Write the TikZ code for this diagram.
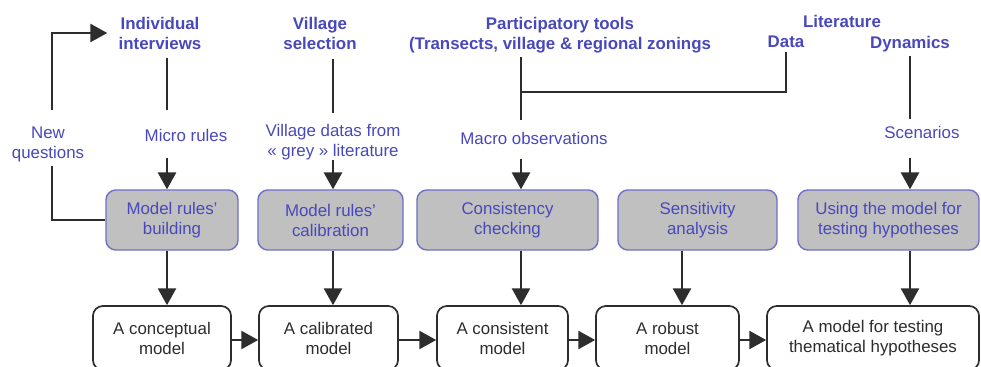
\documentclass[tikz,border=0pt]{standalone}
\usepackage{fontspec}
\setmainfont{Liberation Sans}
\usepackage{xcolor}
\definecolor{LabelBlue}{RGB}{72,72,188}
\definecolor{BoxGray}{RGB}{192,192,192}
\definecolor{BoxEdge}{RGB}{112,112,200}
\definecolor{DarkLine}{RGB}{45,45,45}
\usetikzlibrary{arrows.meta}
\newcommand{\figfont}{\fontsize{12}{14.2}\selectfont}

\begin{document}
\begin{tikzpicture}[x=0.025cm,y=-0.025cm,
	every node/.append style={font=\figfont},
	toplabel/.style={font=\figfont\bfseries, text=LabelBlue, align=center, inner xsep=2pt, inner ysep=3pt},
	midlabel/.style={text=LabelBlue, align=center, inner xsep=2pt, inner ysep=3pt},
	stepbox/.style={draw=BoxEdge, fill=BoxGray, text=LabelBlue, rounded corners=7pt, line width=1pt, minimum height=1.5cm, align=center},
	modelbox/.style={draw=DarkLine, fill=white, text=DarkLine, rounded corners=7pt, line width=1.2pt, minimum height=1.6cm, align=center},
	link/.style={draw=DarkLine, line width=1.2pt},
	flow/.style={link, -{Triangle[length=12pt,width=13pt]}}]

	\useasboundingbox (0,0) rectangle (981,367);

	% columns
	\coordinate (cq) at (52,0);
	\coordinate (c1) at (167,0);
	\coordinate (c2) at (333,0);
	\coordinate (c3) at (521,0);
	\coordinate (c4) at (682,0);
	\coordinate (c5) at (910,0);
	\coordinate (jn) at (521,92);

	% sources
	\node[toplabel] (interviews) at (160,33) {Individual\\interviews};
	\node[toplabel] (vselect) at (320,33) {Village\\selection};
	\node[toplabel] (partic) at (560,35) {Participatory tools\\(Transects, village \& regional zonings};
	\node[toplabel] (litt) at (842,21) {Literature};
	\node[toplabel] (data) at (786,42) {Data};
	\node[toplabel] (dynam) at (910,44) {Dynamics};

	% what they give
	\node[midlabel] (newq) at (48,144) {New\\questions};
	\node[midlabel] (micro) at (186,135) {Micro rules};
	\node[midlabel] (vdata) at (333,142) {Village datas from\\«~grey~» literature};
	\node[midlabel] (macro) at (534,138) {Macro observations};
	\node[midlabel] (scen) at (922,132) {Scenarios};

	% steps
	\node[stepbox, minimum width=3.3cm] (build) at (172,220) {Model rules'\\building};
	\node[stepbox, minimum width=3.625cm] (calib) at (330.5,220) {Model rules'\\calibration};
	\node[stepbox, minimum width=4.525cm] (consist) at (507.5,220) {Consistency\\checking};
	\node[stepbox, minimum width=3.975cm] (sensit) at (697.5,220) {Sensitivity\\analysis};
	\node[stepbox, minimum width=4.525cm] (using) at (888.5,220) {Using the model for\\testing hypotheses};

	% models
	\node[modelbox, minimum width=3.45cm] (concept) at (162,338) {A conceptual\\model};
	\node[modelbox, minimum width=3.475cm] (calibrated) at (328.5,338) {A calibrated\\model};
	\node[modelbox, minimum width=3.275cm] (consistent) at (502.5,338) {A consistent\\model};
	\node[modelbox, minimum width=3.575cm] (robust) at (667.5,338) {A robust\\model};
	\node[modelbox, minimum width=5.3cm] (thematic) at (873,338) {A model for testing\\thematical hypotheses};

	% feedback loop
	\draw[flow, shorten <=8.5pt, shorten >=6pt] (newq.north -| cq) |- (interviews.west);
	\draw[link] (newq.south -| cq) |- (build.west);

	% top lines
	\draw[link, shorten <=3pt, shorten >=10pt] (interviews.south -| c1) -- (micro.north -| c1);
	\draw[link, shorten <=4pt, shorten >=5pt] (vselect.south -| c2) -- (vdata.north -| c2);
	\draw[link, shorten >=5.5pt] (partic.south -| c3) -- (macro.north -| c3);
	\draw[link] (data.south) |- (jn);
	\draw[link, shorten >=1.5pt] (dynam.south -| c5) -- (scen.north -| c5);

	% into the steps
	\draw[flow, shorten <=8.5pt] (micro.south -| c1) -- (build.north -| c1);
	\draw[flow, shorten <=-3pt] (vdata.south -| c2) -- (calib.north -| c2);
	\draw[flow, shorten <=7pt] (macro.south -| c3) -- (consist.north -| c3);
	\draw[flow, shorten <=11pt] (scen.south -| c5) -- (using.north -| c5);

	% steps to models
	\draw[flow] (build.south -| c1) -- (concept.north -| c1);
	\draw[flow] (calib.south -| c2) -- (calibrated.north -| c2);
	\draw[flow] (consist.south -| c3) -- (consistent.north -| c3);
	\draw[flow] (sensit.south -| c4) -- (robust.north -| c4);
	\draw[flow] (using.south -| c5) -- (thematic.north -| c5);

	% models chain
	\draw[flow] (concept.east |- 0,340) -- (calibrated.west |- 0,340);
	\draw[flow] (calibrated.east |- 0,340) -- (consistent.west |- 0,340);
	\draw[flow] (consistent.east |- 0,340) -- (robust.west |- 0,340);
	\draw[flow] (robust.east |- 0,340) -- (thematic.west |- 0,340);
\end{tikzpicture}
\end{document}
